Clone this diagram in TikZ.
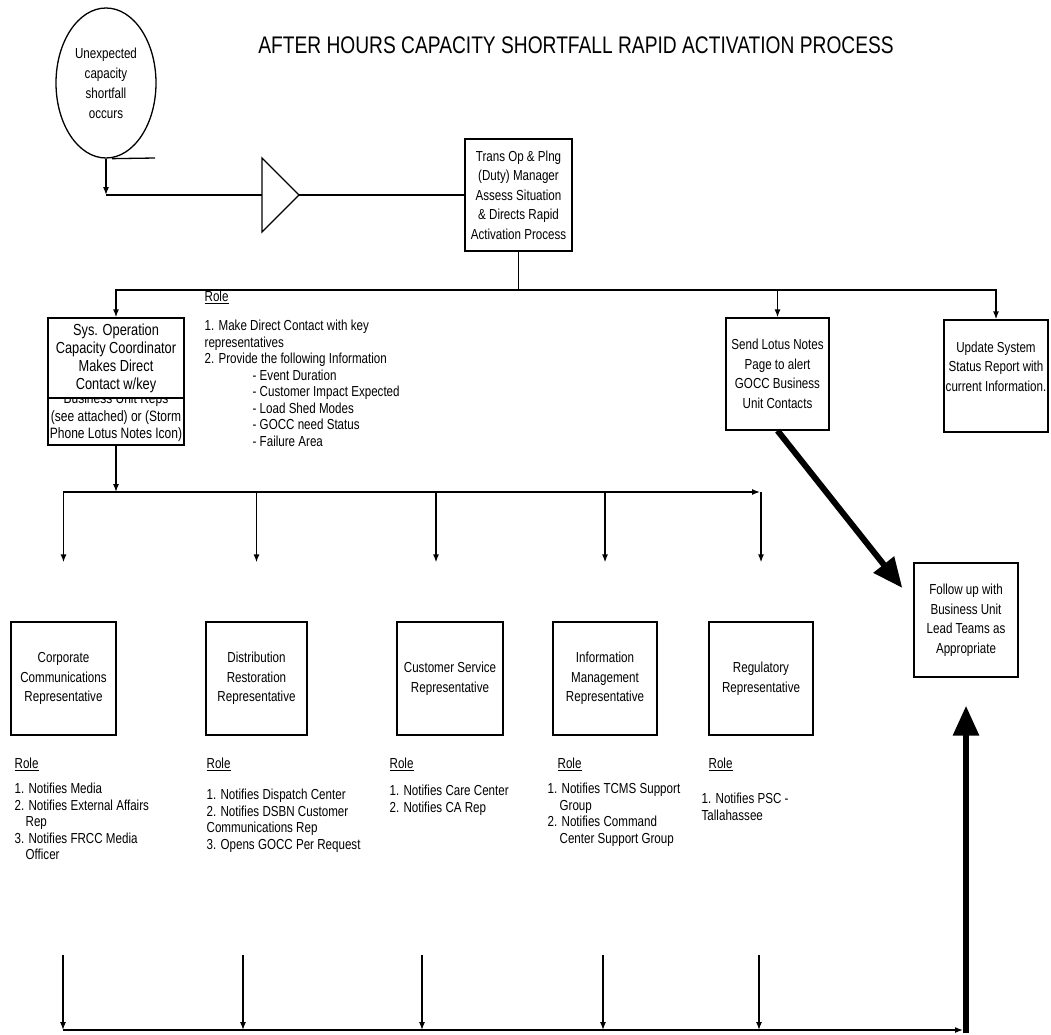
\documentclass[tikz,border=0pt]{standalone}
\usepackage{fontspec}
\setmainfont{Liberation Sans}[FakeStretch=0.8]
\usetikzlibrary{shapes.geometric,arrows.meta}

\begin{document}
\begin{tikzpicture}[x=1pt,y=-1pt,line width=1.3pt,
  box/.style={draw, align=center, inner sep=1pt, font=\fontsize{14.5}{19.5}\selectfont},
  repbox/.style={box, minimum height=113pt},
  arr/.style={-{Latex[length=8pt,width=6pt]}},
  bigarr/.style={-{Triangle[length=30pt,width=25pt]}, line width=6pt},
  role/.style={anchor=north west, align=left, inner sep=0pt, font=\fontsize{14.5}{16.5}\selectfont}]
\useasboundingbox (0,0) rectangle (1051,1034);

\node [font=\fontsize{24}{28}\selectfont] (ttl) at (576,45) {AFTER HOURS CAPACITY SHORTFALL RAPID ACTIVATION PROCESS};

% start of the process
\node [draw, ellipse, minimum width=100pt, minimum height=150pt, align=center, inner sep=0pt,
  font=\fontsize{14.5}{20}\selectfont] (evt) at (106,83) {Unexpected\\capacity\\shortfall\\occurs};
\coordinate (stub) at (155,158);
\draw ([xshift=6pt]evt.south) -- (stub);
\coordinate (c1) at (106,195);
\draw [arr] (evt.south) -- (c1);
\coordinate (trl) at (262,195);
\coordinate (trt) at (299,195);
\draw (262,158) -- (trt) -- (262,232) -- cycle;
\draw (c1) -- (trl);

\node [box, minimum width=107pt, minimum height=112pt] (mgr) at (518.5,195)
  {Trans Op \& Plng\\(Duty) Manager\\Assess Situation\\\& Directs Rapid\\Activation Process};
\draw (trt) -- (mgr.west);

% first level
\node [draw, inner sep=0pt, font=\fontsize{15}{17.5}\selectfont] (sysb) at (116,421.5)
  {\parbox[c][47pt][b]{136pt}{\centering Business Unit Reps\\(see attached) or (Storm\\Phone Lotus Notes Icon)\par\vspace{3pt}}};
\node [box, fill=white, minimum width=136pt, minimum height=80pt, font=\fontsize{16}{18}\selectfont] (sys) at (116,358)
  {Sys. Operation\\Capacity Coordinator\\Makes Direct\\Contact w/key};
\node [box, minimum width=103pt, minimum height=112pt] (snd) at (777.5,374)
  {Send Lotus Notes\\Page to alert\\GOCC Business\\Unit Contacts};
\node [box, minimum width=104pt, minimum height=112pt] (upd) at (996,376)
  {Update System\\Status Report with\\current Information.\\\mbox{}};
\node [box, minimum width=104pt, minimum height=114pt] (fol) at (966,620)
  {Follow up with\\Business Unit\\Lead Teams as\\Appropriate};

\coordinate (b1) at (518.5,290);
\draw (mgr.south) -- (b1);
\draw [arr] (b1) -| (sys.north);
\draw [arr] (b1) -| (upd.north);
\draw [arr] (snd.north |- b1) -- (snd.north);
\draw [bigarr] (snd.south) -- ([xshift=-11pt,yshift=32pt]fol.west);

\node [role] (sysrl) at (204,290) {\underline{Role}\\[13pt]1. Make Direct Contact with key\\representatives\\2. Provide the following Information\\
  \hspace*{48pt}- Event Duration\\\hspace*{48pt}- Customer Impact Expected\\\hspace*{48pt}- Load Shed Modes\\
  \hspace*{48pt}- GOCC need Status\\\hspace*{48pt}- Failure Area};

% representatives
\node [repbox, minimum width=105pt] (corp) at (63.5,678.5) {Corporate\\Communications\\Representative};
\node [repbox, minimum width=101pt] (dist) at (256.5,678.5) {Distribution\\Restoration\\Representative};
\node [repbox, minimum width=106pt] (cs) at (450,678.5) {Customer Service\\Representative};
\node [repbox, minimum width=104pt] (info) at (605,678.5) {Information\\Management\\Representative};
\node [repbox, minimum width=104pt] (reg) at (761,678.5) {Regulatory\\Representative};

\coordinate (b2) at (63,492);
\coordinate (b2e) at (760,492);
\draw [arr] (sysb.south) -- (sysb.south |- b2);
\draw [arr] (b2) -- (b2e);
\draw [arr, shorten >=59pt] (corp.north |- b2) -- (corp.north);
\draw [arr, shorten >=59pt] (dist.north |- b2) -- (dist.north);
\draw [arr, shorten >=59pt] ([xshift=-14pt]cs.north |- b2) -- ([xshift=-14pt]cs.north);
\draw [arr, shorten >=59pt] (info.north |- b2) -- (info.north);
\draw [arr, shorten >=59pt] (reg.north |- b2) -- (reg.north);

\node [role] (corprl) at (14,757) {\underline{Role}\\[9pt]1. Notifies Media\\2. Notifies External Affairs\\
  \hspace*{11pt}Rep\\3. Notifies FRCC Media\\\hspace*{11pt}Officer};
\node [role] (distrl) at (206,757) {\underline{Role}\\[15pt]1. Notifies Dispatch Center\\2. Notifies DSBN Customer\\
  Communications Rep\\3. Opens GOCC Per Request};
\node [role] (csrl) at (389,757) {\underline{Role}\\[11pt]1. Notifies Care Center\\2. Notifies CA Rep};
\node [role] (inforl) at (547,757) {\hspace*{10pt}\underline{Role}\\[9pt]1. Notifies TCMS Support\\\hspace*{12pt}Group\\
  2. Notifies Command\\\hspace*{12pt}Center Support Group};
\node [role] (regrl) at (701,757) {\hspace*{7pt}\underline{Role}\\[19pt]1. Notifies PSC -\\Tallahassee};

% back to the follow up
\coordinate (bl) at (63,1030);
\coordinate (br) at (966,1030);
\foreach \x [count=\i] in {63,243,422,603,759} {
  \coordinate (d\i) at (\x,955);
  \draw [arr] (d\i) -- (d\i |- bl);
}
\draw [arr] (bl) -- ([xshift=-3pt]br);
\draw [bigarr, shorten >=28pt] ([yshift=-3pt]br) -- (fol.south);
\end{tikzpicture}
\end{document}
